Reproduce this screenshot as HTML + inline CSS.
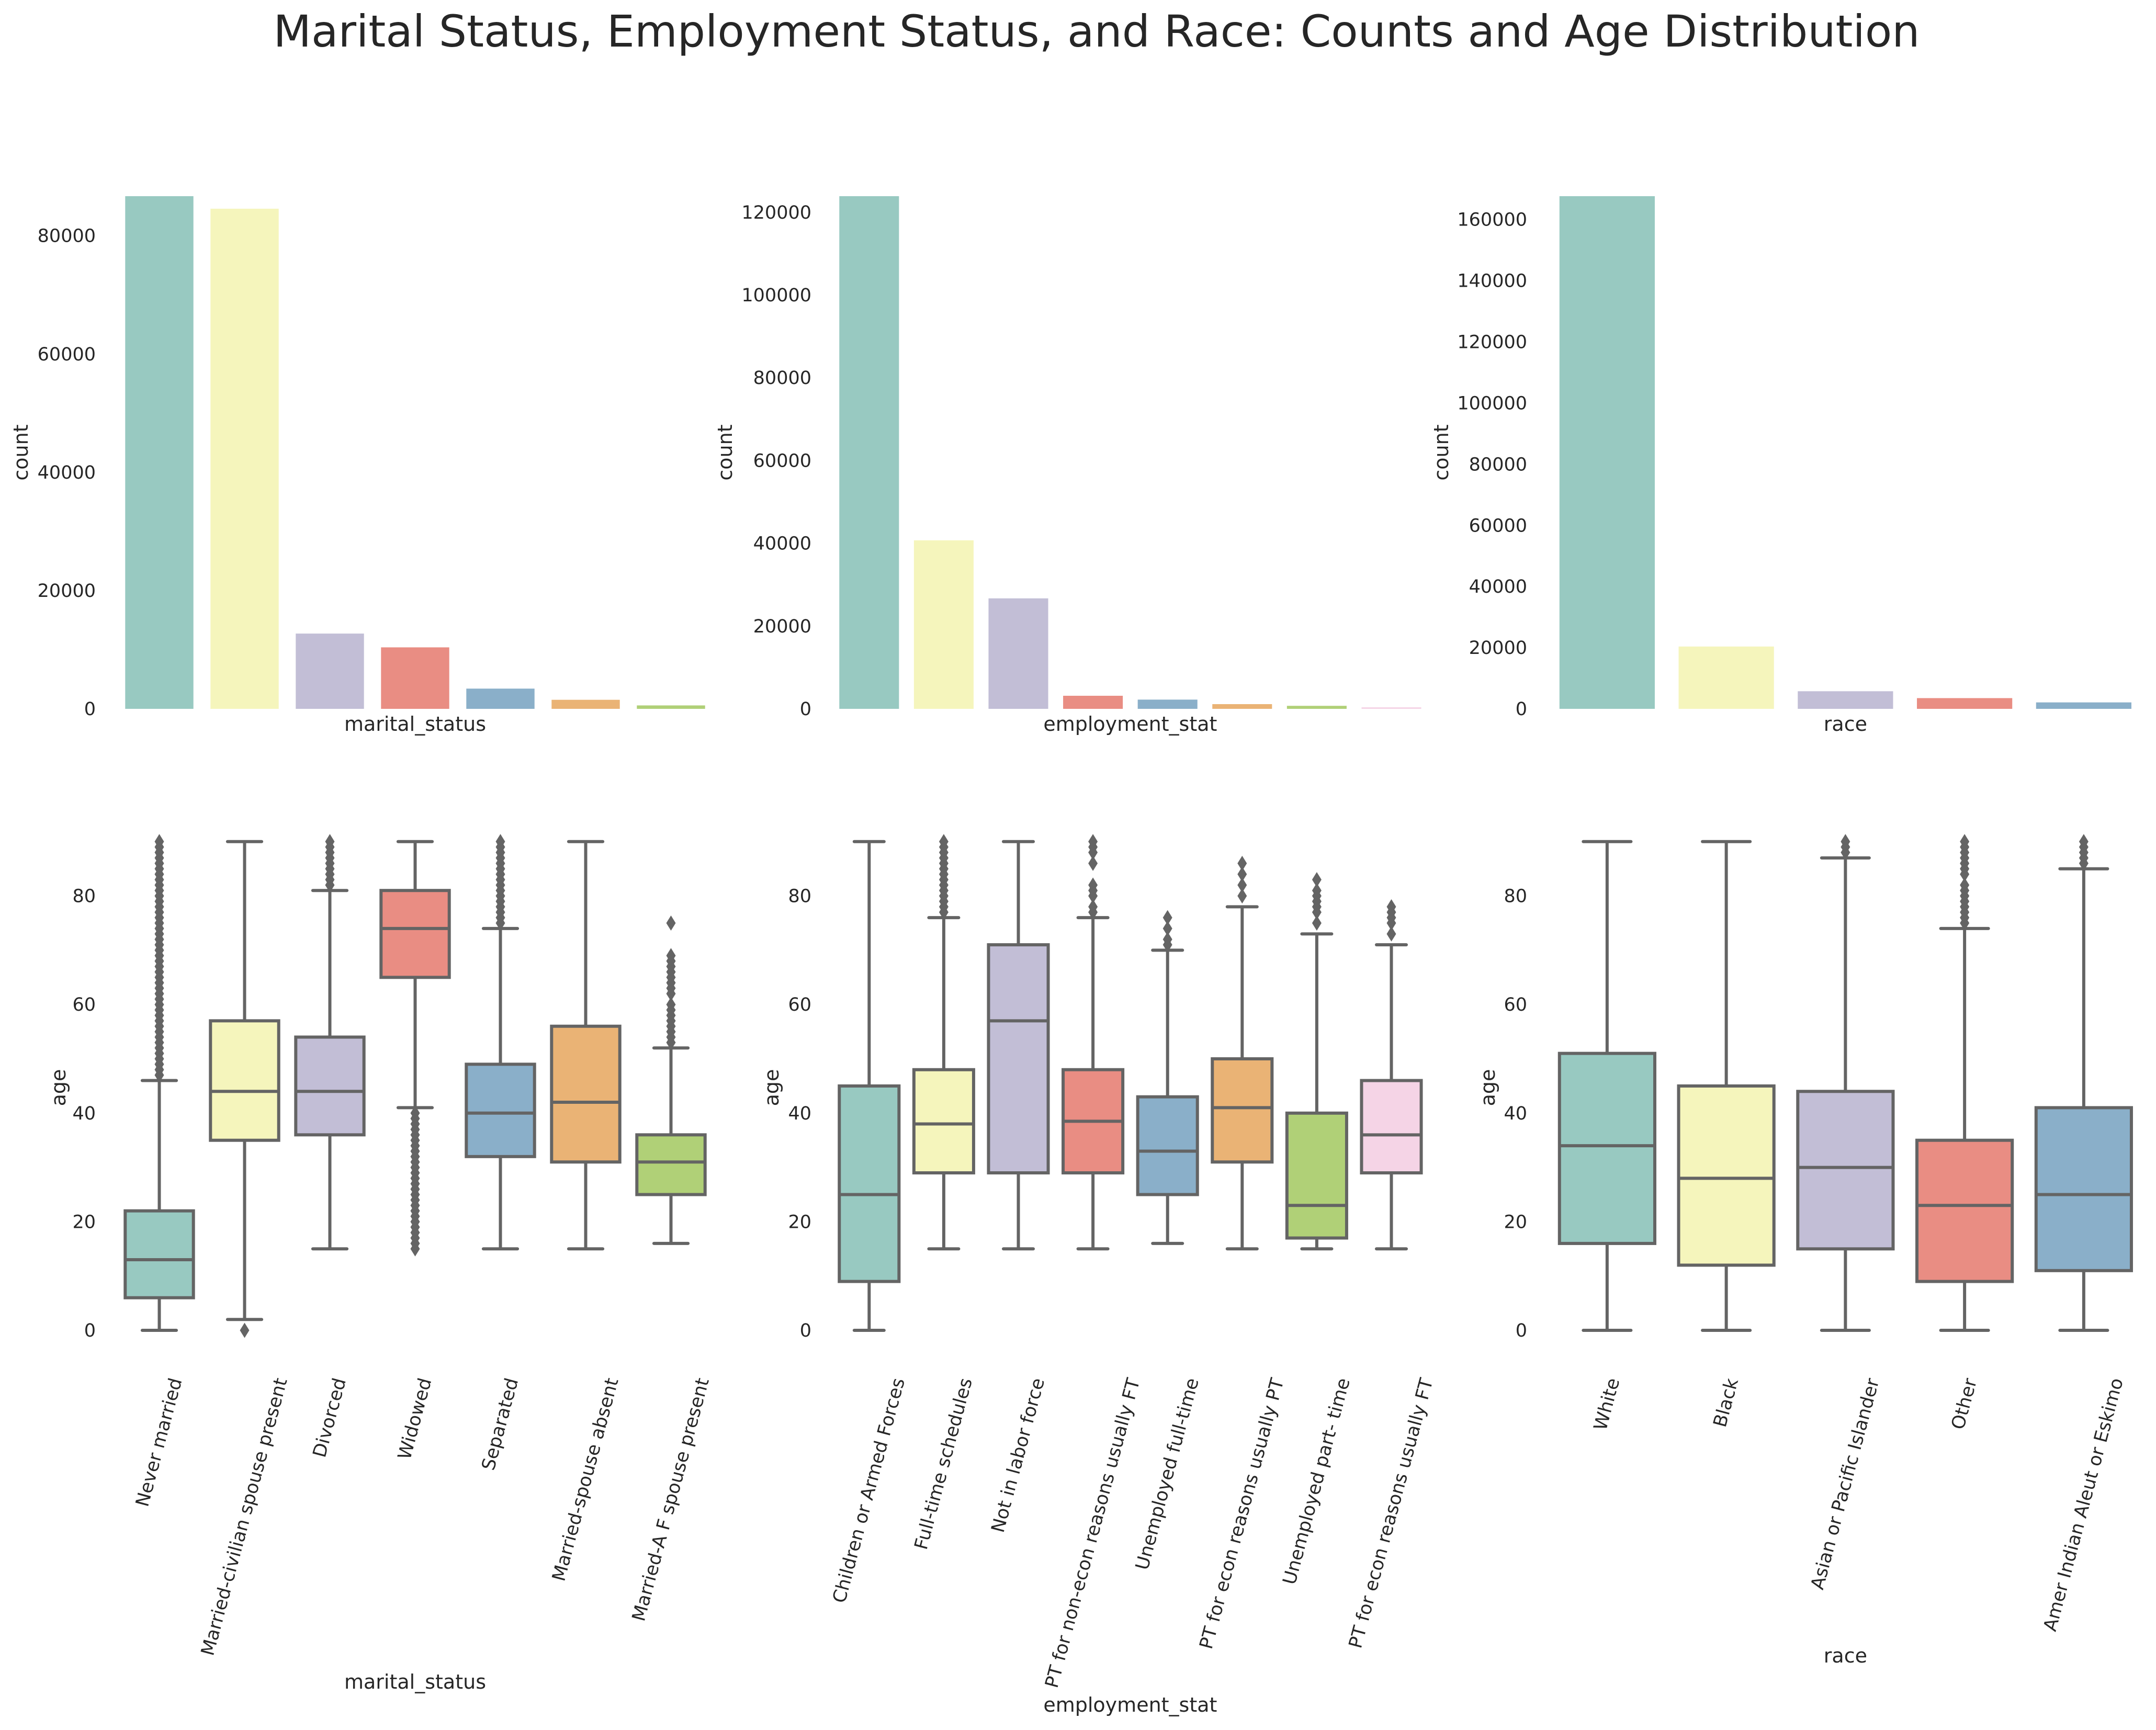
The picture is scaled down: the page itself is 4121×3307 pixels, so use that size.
<!DOCTYPE html>
<html><head><meta charset="utf-8">
<style>
html,body{margin:0;padding:0;background:#fff;}
svg{display:block;font-family:"DejaVu Sans","Liberation Sans",sans-serif;}
</style></head>
<body>
<svg id="chart" width="4121" height="3307" viewBox="0 0 4121 3307" xmlns="http://www.w3.org/2000/svg">
<text x="2096" y="89" font-size="84" fill="#262626" text-anchor="middle">Marital Status, Employment Status, and Race: Counts and Age Distribution</text>
<g id="g"></g>
</svg>
<script>
const maritalCats = ["Never married","Married-civilian spouse present","Divorced","Widowed","Separated","Married-spouse absent","Married-A F spouse present"];
const maritalCounts = [86700,84580,12730,10400,3420,1530,580];
const maritalBox = [[0,6,13,22,46],[2,35,44,57,90],[15,36,44,54,81],[41,65,74,81,90],[15,32,40,49,74],[15,31,42,56,90],[16,25,31,36,52]];
const maritalOut = [
 [47,48,49,50,51,52,53,54,55,56,57,58,59,60,61,62,63,64,65,66,67,68,69,70,71,72,73,74,75,76,77,78,79,80,81,82,83,84,85,86,87,88,89,90],
 [0],
 [82,83,84,85,86,87,88,89,90],
 [15,16,17,18,19,20,21,22,23,24,25,26,27,28,29,30,31,32,33,34,35,36,37,38,39,40],
 [75,76,77,78,79,80,81,82,83,84,85,86,87,88,89,90],
 [],
 [53,54,55,56,57,58,59,60,62,63,64,65,66,67,68,69,75]];
const empCats = ["Children or Armed Forces","Full-time schedules","Not in labor force","PT for non-econ reasons usually FT","Unemployed full-time","PT for econ reasons usually PT","Unemployed part- time","PT for econ reasons usually FT"];
const empCounts = [123900,40730,26700,3160,2230,1140,730,370];
const empBox = [[0,9,25,45,90],[15,29,38,48,76],[15,29,57,71,90],[15,29,38.5,48,76],[16,25,33,43,70],[15,31,41,50,78],[15,17,23,40,73],[15,29,36,46,71]];
const empOut = [[],[77,78,79,80,81,82,83,84,85,86,87,88,89,90],[],[77,78,80,81,82,86,88,89,90],[71,72,74,76],[80,82,84,86],[75,77,78,79,80,81,83],[73,75,76,77,78]];
const raceCats = ["White","Black","Asian or Pacific Islander","Other","Amer Indian Aleut or Eskimo"];
const raceCounts = [167650,20380,5760,3510,2110];
const raceBox = [[0,16,34,51,90],[0,12,28,45,90],[0,15,30,44,87],[0,9,23,35,74],[0,11,25,41,85]];
const raceOut = [[],[],[88,89,90],[75,76,77,78,79,80,81,82,84,85,86,87,88,89,90],[86,87,88,89,90]];
const countTicks = [[0,20000,40000,60000,80000],[0,20000,40000,60000,80000,100000,120000],[0,20000,40000,60000,80000,100000,120000,140000,160000]];
const ageTicks = [0,20,40,60,80];
const colors = ["#98c9c1","#f5f5bc","#c2bed6","#e98d83","#8aafc9","#eab375","#b0d077","#f5d4e6"];

const NS="http://www.w3.org/2000/svg";
const G=document.getElementById('g');
function mk(tag,attrs,parent){const e=document.createElementNS(NS,tag);for(const k in attrs)e.setAttribute(k,attrs[k]);(parent||G).appendChild(e);return e;}

const panels=[
 {key:"marital",x0:223,step:163,ymax:86700,cats:maritalCats,counts:maritalCounts,box:maritalBox,out:maritalOut,ticks:countTicks[0],tickR:183,ylabX:40,ageLabX:112,xlab:"marital_status",xlabY:3228,ageTickR:183},
 {key:"employment",x0:1590,step:142.6,ymax:123900,cats:empCats,counts:empCounts,box:empBox,out:empOut,ticks:countTicks[1],tickR:1551,ylabX:1386,ageLabX:1475,xlab:"employment_stat",xlabY:3272,ageTickR:1551},
 {key:"race",x0:2958,step:227.75,ymax:167650,cats:raceCats,counts:raceCounts,box:raceBox,out:raceOut,ticks:countTicks[2],tickR:2919,ylabX:2755,ageLabX:2844,xlab:"race",xlabY:3178,ageTickR:2919}
];
const TOP0=375, BASE=1355;
const AGE0=2543, AGEK=10.38;
const LINE="#646464";
const TXT="#262626";
const pendingLabels=[];

panels.forEach(p=>{
  const cx=i=>p.x0+p.step*(i+0.5);
  const yc=v=>BASE-(v/p.ymax)*(BASE-TOP0);
  const ya=v=>AGE0-v*AGEK;
  const bw=p.step*0.8;
  const gt=mk('g',{});
  
  
  p.ticks.forEach(t=>{
    const e=mk('text',{x:p.tickR,y:yc(t)+12,'font-size':35,fill:TXT,'text-anchor':'end'},gt);
    e.textContent=String(t);
    
    
  });
  const yl=mk('text',{x:p.ylabX,y:(TOP0+BASE)/2,'font-size':38,fill:TXT,'text-anchor':'middle',transform:`rotate(-90 ${p.ylabX} ${(TOP0+BASE)/2})`,dy:13},gt);
  yl.textContent='count';
  
  
  p.counts.forEach((v,i)=>{
    const r=mk('rect',{x:cx(i)-bw/2,y:yc(v),width:bw,height:BASE-yc(v),fill:colors[i]},gt);
    
    
  });
  const xl=mk('text',{x:p.x0+p.step*p.cats.length/2,y:1397,'font-size':38,fill:TXT,'text-anchor':'middle'},gt);
  xl.textContent=p.xlab;
  
  

  const gb=mk('g',{});
  
  
  ageTicks.forEach(t=>{
    const e=mk('text',{x:p.ageTickR,y:ya(t)+12,'font-size':35,fill:TXT,'text-anchor':'end'},gb);
    e.textContent=String(t);
    
    
  });
  const al=mk('text',{x:p.ageLabX,y:2079,'font-size':38,fill:TXT,'text-anchor':'middle',transform:`rotate(-90 ${p.ageLabX} 2079)`,dy:13},gb);
  al.textContent='age';
  
  
  p.box.forEach((b,i)=>{
    const x=cx(i);
    const bg=mk('g',{},gb);
    
    
    const cap=bw/4;
    mk('line',{x1:x,x2:x,y1:ya(b[0]),y2:ya(b[1]),stroke:LINE,'stroke-width':6},bg);
    mk('line',{x1:x,x2:x,y1:ya(b[3]),y2:ya(b[4]),stroke:LINE,'stroke-width':6},bg);
    mk('line',{x1:x-cap,x2:x+cap,y1:ya(b[0]),y2:ya(b[0]),stroke:LINE,'stroke-width':6,'stroke-linecap':'round'},bg);
    mk('line',{x1:x-cap,x2:x+cap,y1:ya(b[4]),y2:ya(b[4]),stroke:LINE,'stroke-width':6,'stroke-linecap':'round'},bg);
    mk('rect',{x:x-bw/2,y:ya(b[3]),width:bw,height:ya(b[1])-ya(b[3]),fill:colors[i],stroke:LINE,'stroke-width':6},bg);
    mk('line',{x1:x-bw/2,x2:x+bw/2,y1:ya(b[2]),y2:ya(b[2]),stroke:LINE,'stroke-width':6},bg);
    p.out[i].forEach(o=>{
      const yy=ya(o);
      const d=mk('polygon',{points:`${x},${yy-14.5} ${x+9},${yy} ${x},${yy+14.5} ${x-9},${yy}`,fill:LINE},bg);
      
      
    });
    const tl=mk('text',{x:x,y:2630,'font-size':35,fill:TXT,'text-anchor':'end'},gb);
    tl.textContent=p.cats[i];
    
    
    pendingLabels.push({el:tl,x:x});
  });
  const bxl=mk('text',{x:p.x0+p.step*p.cats.length/2,y:p.xlabY,'font-size':38,fill:TXT,'text-anchor':'middle'},gb);
  bxl.textContent=p.xlab;
  
  
});
const svg=document.getElementById('chart');
pendingLabels.forEach(L=>{
  L.el.setAttribute('transform',`rotate(-75 ${L.x} 2630)`);
  const r=L.el.getBoundingClientRect();
  const sr=svg.getBoundingClientRect();
  const cxb=(r.left+r.right)/2-sr.left;
  const top=r.top-sr.top;
  const dx=L.x-cxb, dy=2630-top;
  L.el.setAttribute('transform',`translate(${dx} ${dy}) rotate(-75 ${L.x} 2630)`);
});
</script>
</body></html>
